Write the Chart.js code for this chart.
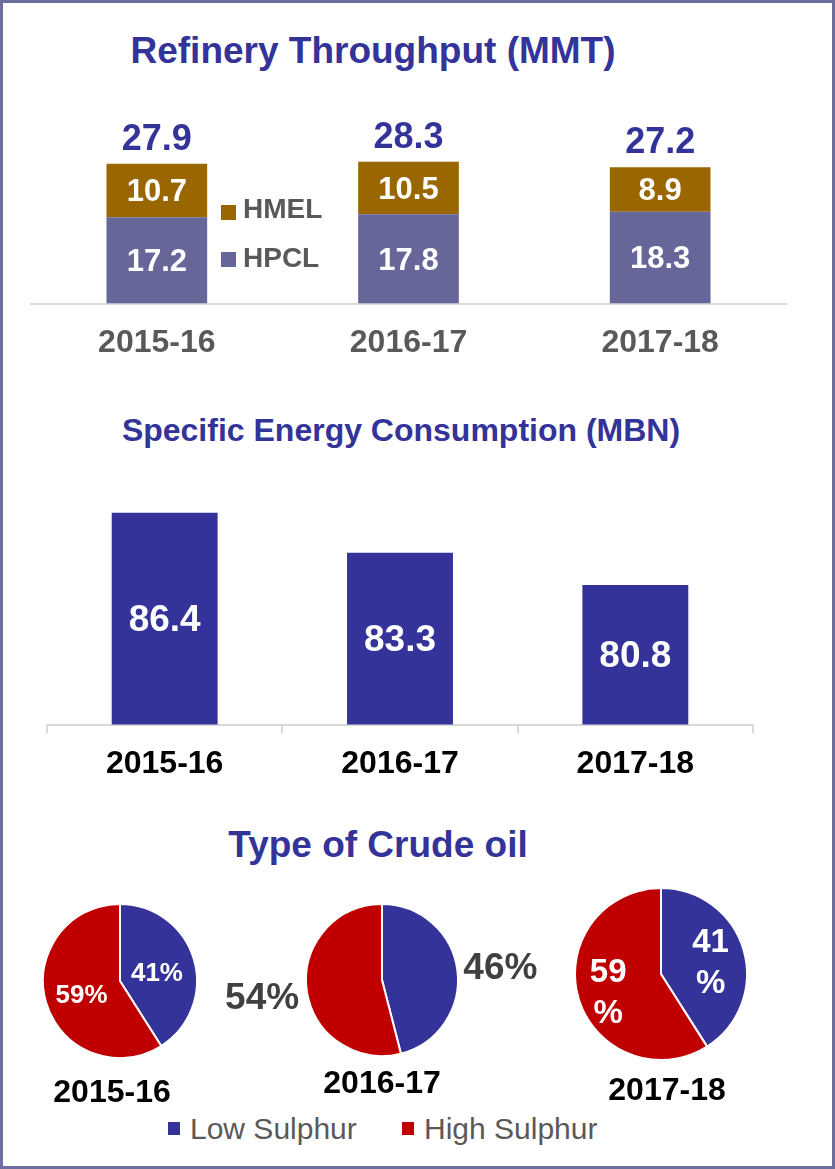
<!DOCTYPE html>
<html>
<head>
<meta charset="utf-8">
<script src="https://cdn.jsdelivr.net/npm/chart.js@4.4.0/dist/chart.umd.min.js"></script>
<style>
    body { margin: 0; background: #fff; font-family: "Liberation Sans", Arial, sans-serif; }
    #frame { position: absolute; left: 0; top: 0; width: 835px; height: 1169px; box-sizing: border-box; border: 3px solid #6E6E9E; }
    .box { position: absolute; }
    .txt { position: absolute; line-height: 1; white-space: nowrap; font-weight: bold; }
    .center { transform: translateX(-50%); }
    .title { color: #333399; }
    .sq { position: absolute; }
</style>
</head>
<body>
<div id="frame"></div>

<div class="txt title center" style="left:373px; top:32px; font-size:37px;">Refinery Throughput (MMT)</div>
<div class="txt title center" style="left:401px; top:414px; font-size:32px;">Specific Energy Consumption (MBN)</div>
<div class="txt title center" style="left:378px; top:826px; font-size:37px;">Type of Crude oil</div>

<div class="box" style="left:26px; top:103px; width:765px; height:279px;"><canvas id="throughputChart"></canvas></div>
<div class="box" style="left:42px; top:492px; width:716px; height:302px;"><canvas id="secChart"></canvas></div>

<div id="throughputLegend"></div>

<div class="box" style="left:20px; top:881px; width:200px; height:200px;"><canvas id="pie0"></canvas></div>
<div class="box" style="left:200px; top:880px; width:364px; height:200px;"><canvas id="pie1"></canvas></div>
<div class="box" style="left:561px; top:874px; width:200px; height:200px;"><canvas id="pie2"></canvas></div>

<div id="pieYears"></div>
<div id="pieLegend"></div>

<script>
// =========================
// DATA
// =========================
const years = ["2015-16", "2016-17", "2017-18"];
const hpcl = [17.2, 17.8, 18.3];
const hmel = [10.7, 10.5, 8.9];
const totals = [27.9, 28.3, 27.2];
const secValues = [86.4, 83.3, 80.8];
const crudeLabels = ["Low Sulphur", "High Sulphur"];
const lowSulphur = [41, 46, 41];
const highSulphur = [59, 54, 59];

const FONT = '"Liberation Sans", Arial, sans-serif';
const BLUE = "#333399";
const RED = "#C00000";

// =========================
// LABEL PLUGINS (one object per chart)
// =========================
function makeBarLabels(id, size, totalLabels, totalSize) {
    return {
        id: id,
        afterDatasetsDraw(chart) {
            const ctx = chart.ctx;
            const bottom = chart.chartArea.bottom;
            ctx.save();
            ctx.textAlign = "center";
            ctx.textBaseline = "middle";
            ctx.font = `bold ${size}px ${FONT}`;
            ctx.fillStyle = "#ffffff";
            chart.data.datasets.forEach((ds, i) => {
                chart.getDatasetMeta(i).data.forEach((bar, j) => {
                    const p = bar.getProps(["x", "y", "base"], true);
                    // axis does not start at zero on the SEC chart, so clamp the base
                    const base = Math.min(p.base, bottom);
                    ctx.fillText(ds.data[j].toFixed(1), p.x, (p.y + base) / 2 + 2);
                });
            });
            if (totalLabels) {
                const top = chart.getDatasetMeta(chart.data.datasets.length - 1);
                ctx.font = `bold ${totalSize}px ${FONT}`;
                ctx.fillStyle = BLUE;
                top.data.forEach((bar, j) => {
                    const p = bar.getProps(["x", "y"], true);
                    ctx.fillText(totalLabels[j].toFixed(1), p.x, p.y - 24);
                });
            }
            ctx.restore();
        }
    };
}

function makePieLabels(id, st) {
    return {
        id: id,
        afterDatasetsDraw(chart) {
            const ctx = chart.ctx;
            const ds = chart.data.datasets[0];
            ctx.save();
            ctx.textAlign = "center";
            ctx.textBaseline = "middle";
            ctx.font = `bold ${st.size}px ${FONT}`;
            ctx.fillStyle = st.color;
            chart.getDatasetMeta(0).data.forEach((arc, i) => {
                const p = arc.getProps(["x", "y", "startAngle", "endAngle", "outerRadius"], true);
                const mid = (p.startAngle + p.endAngle) / 2;
                const r = p.outerRadius * st.dist[i];
                const x = p.x + Math.cos(mid) * r;
                const y = p.y + Math.sin(mid) * r + 4;
                if (st.split) {
                    ctx.fillText(String(ds.data[i]), x, y - st.size * 0.62);
                    ctx.fillText("%", x, y + st.size * 0.62);
                } else {
                    ctx.fillText(ds.data[i] + "%", x, y);
                }
            });
            ctx.restore();
        }
    };
}

// =========================
// REFINERY THROUGHPUT
// =========================
new Chart(document.getElementById("throughputChart"), {
    type: "bar",
    data: {
        labels: years,
        datasets: [
            { label: "HPCL", data: hpcl, backgroundColor: "#666699" },
            { label: "HMEL", data: hmel, backgroundColor: "#996600" }
        ]
    },
    options: {
        responsive: true,
        maintainAspectRatio: false,
        animation: false,
        layout: { padding: { left: 5, right: 5, top: 0, bottom: 0 } },
        datasets: { bar: { categoryPercentage: 1, barPercentage: 0.4 } },
        plugins: { legend: { display: false }, tooltip: { enabled: false } },
        scales: {
            x: {
                stacked: true,
                grid: { display: false, drawTicks: false, tickLength: 0 },
                border: { color: "#D9D9D9", width: 2 },
                ticks: { color: "#595959", padding: 20, font: { family: FONT, size: 32, weight: "bold" } }
            },
            y: { stacked: true, display: false, min: 0, max: 40 }
        }
    },
    plugins: [makeBarLabels("throughputLabels", 31, totals, 36)]
});

// legend built from the dataset names (HMEL on top)
const legendBox = document.getElementById("throughputLegend");
[["HMEL", "#996600", 195, 205], ["HPCL", "#666699", 244, 252]].forEach(([name, color, top, sqTop]) => {
    legendBox.insertAdjacentHTML("beforeend",
        `<div class="sq" style="left:221px; top:${sqTop}px; width:15px; height:15px; background:${color};"></div>` +
        `<div class="txt" style="left:243px; top:${top}px; font-size:28px; color:#595959;">${name}</div>`);
});

// =========================
// SPECIFIC ENERGY CONSUMPTION
// =========================
new Chart(document.getElementById("secChart"), {
    type: "bar",
    data: {
        labels: years,
        datasets: [{ label: "MBN", data: secValues, backgroundColor: BLUE }]
    },
    options: {
        responsive: true,
        maintainAspectRatio: false,
        animation: false,
        layout: { padding: { left: 5, right: 5, top: 0, bottom: 0 } },
        datasets: { bar: { categoryPercentage: 1, barPercentage: 0.45 } },
        plugins: { legend: { display: false }, tooltip: { enabled: false } },
        scales: {
            x: {
                grid: { display: true, drawOnChartArea: false, drawTicks: true, tickLength: 9, color: "#D9D9D9", lineWidth: 2 },
                border: { color: "#D9D9D9", width: 2 },
                ticks: { color: "#000", padding: 11, font: { family: FONT, size: 32, weight: "bold" } }
            },
            y: { display: false, min: 70, max: 88 }
        }
    },
    plugins: [makeBarLabels("secLabels", 37)]
});

// =========================
// TYPE OF CRUDE OIL
// =========================
const pieStyles = [
    { radius: 77, size: 26, color: "#fff", dist: [0.5, 0.52], split: false },
    { radius: 76, size: 37, color: "#404040", dist: [1.57, 1.59], split: false },
    { radius: 86, size: 33, color: "#fff", dist: [0.6, 0.64], split: true }
];

years.forEach((year, i) => {
    const st = pieStyles[i];
    new Chart(document.getElementById("pie" + i), {
        type: "pie",
        data: {
            labels: crudeLabels,
            datasets: [{
                data: [lowSulphur[i], highSulphur[i]],
                backgroundColor: [BLUE, RED],
                borderColor: "#fff",
                borderWidth: 2,
                radius: st.radius
            }]
        },
        options: {
            responsive: true,
            maintainAspectRatio: false,
            animation: false,
            plugins: { legend: { display: false }, tooltip: { enabled: false } }
        },
        plugins: [makePieLabels("pieLabels" + i, st)]
    });
});

const yearPos = [[112, 1075], [382, 1066], [667, 1073]];
document.getElementById("pieYears").innerHTML = years.map((y, i) =>
    `<div class="txt center" style="left:${yearPos[i][0]}px; top:${yearPos[i][1]}px; font-size:32px; color:#000;">${y}</div>`
).join("");

const legendPos = [[168, 190], [402, 424]];
const legendColors = [BLUE, RED];
document.getElementById("pieLegend").innerHTML = crudeLabels.map((name, i) =>
    `<div class="sq" style="left:${legendPos[i][0]}px; top:1122px; width:12px; height:13px; background:${legendColors[i]};"></div>` +
    `<div class="txt" style="left:${legendPos[i][1]}px; top:1114px; font-size:30px; font-weight:normal; color:#595959;">${name}</div>`
).join("");
</script>
</body>
</html>
